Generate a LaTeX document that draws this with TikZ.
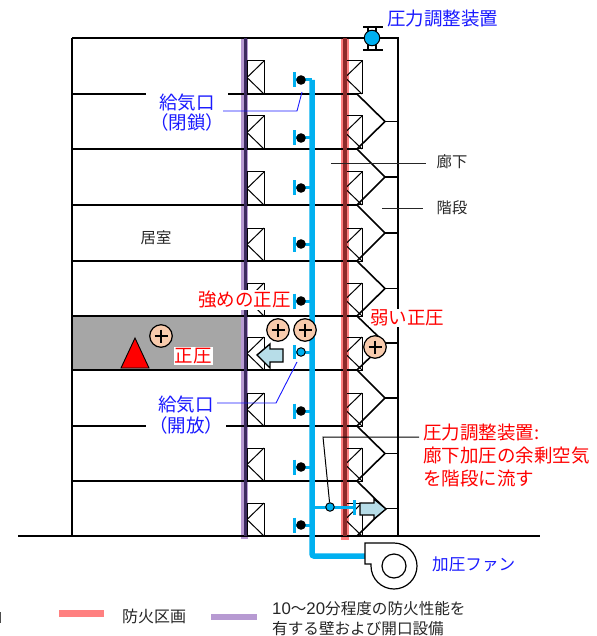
\documentclass[tikz,border=0pt]{standalone}
\usepackage{fontspec}
\setmainfont{Noto Sans CJK JP}
\newfontfamily\lat{Liberation Sans}
\usetikzlibrary{calc}
\definecolor{duct}{HTML}{00B0F0}
\definecolor{pinkw}{HTML}{FF8080}
\definecolor{purw}{HTML}{B79AD2}
\definecolor{purd}{HTML}{3C2A5E}
\definecolor{redd}{HTML}{8E2A2A}
\definecolor{plusf}{HTML}{F8CBAD}
\definecolor{arrowf}{HTML}{B7DDE8}
\definecolor{bluet}{HTML}{1A1AFF}
\definecolor{roomg}{HTML}{A6A6A6}
\tikzset{
  x=1pt,y=-1pt,
  wall/.style={line width=1.6pt,black},
  doorb/.style={line width=1pt,black},
  ductl/.style={line width=5.5pt,duct},
  ductt/.style={line width=3pt,duct},
  plusc/.style={circle,draw=black,line width=1.2pt,fill=plusf,minimum size=22.5pt,inner sep=0pt},
  lbl/.style={inner sep=1pt,font=\fontsize{18.5}{21}\selectfont},
  bluelbl/.style={lbl,text=bluet},
  redlbl/.style={lbl,text=red},
  blacklbl/.style={inner sep=1pt,text=black!85,font=\fontsize{15.3}{17}\selectfont},
  leadb/.style={line width=0.9pt,bluet},
  leadk/.style={line width=0.8pt,black!85},
  arrowb/.style={draw=black,line width=1.4pt,fill=arrowf,line join=miter},
}
\begin{document}
\begin{tikzpicture}
\useasboundingbox (0,0) rectangle (596,636);
\fill[white] (0,0) rectangle (596,636);
% room
\fill[roomg] (73,317) rectangle (241,369);
% fire walls (light band)
\fill[purw] (240.7,37) rectangle (248.3,539);
\fill[pinkw] (341,37) rectangle (349,540);
% building
\draw[wall] (72,38) -- (398,38) -- (398,536);
\draw[wall] (72,38) -- (72,536);
\foreach \y/\z in {94/149,149/205,205/261,261/316,316/370,370/426,426/481,481/536}{
  \draw[wall] (72,\y) -- (357,\y) -- ($(385,{(\y+\z)/2})$) -- (357,\z);
  \draw[line width=1.2pt] ($(385,{(\y+\z)/2})$) -- ($(398,{(\y+\z)/2})$);
}
\draw[wall] (18,536) -- (540,536);
% doors
\foreach \y in {94,149,205,261,316,370,426,481,536}{
  \foreach \x in {247,345}{
    \draw[doorb] (\x,\y-33) rectangle (\x+17,\y);
    \draw[doorb] (\x+17,\y-33) -- (\x,\y-16.5) -- (\x+17,\y);
  }
}
% wall core lines
\draw[line width=3pt,purd] (245,38) -- (245,536);
\draw[line width=3.6pt,redd] (345,38) -- (345,536);
% duct
\draw[ductl,rounded corners=2pt] (312,80) -- (312,556) -- (366,556);
\foreach \y in {80,138,188,244,301,411,467,525}{
  \draw[ductt] (312,\y) -- (294,\y);
  \draw[ductt] (294,\y-7.5) -- (294,\y+7.5);
  \fill[black] (301,\y) circle (4.8);
}
\draw[ductt] (312,352) -- (294,352);
\draw[ductt] (294,345) -- (294,359);
\node[circle,draw=black,fill=duct,line width=1pt,minimum size=8.5pt,inner sep=0pt] (openv) at (301,352) {};
% branch regulator
\draw[ductt] (312,507) -- (354,507);
\draw[ductt] (354,500) -- (354,515);
\node[circle,draw=black,fill=duct,line width=1pt,minimum size=8.5pt,inner sep=0pt] (reg) at (330,507) {};
% top regulator
\draw[line width=1.6pt] (363,27) -- (383,27) (363,50) -- (383,50);
\draw[line width=1.1pt] (368,27) -- (368,50) (376,27) -- (376,50);
\node[circle,draw=black,fill=duct,line width=1pt,minimum size=15.5pt,inner sep=0pt] (topreg) at (372,38) {};
% fan
\draw[line width=1.2pt,fill=white] (365,543) -- (394,543) arc[start angle=-90,end angle=180,radius=23] -- (371,564) -- (365,564) -- cycle;
\node[circle,draw=black,line width=1.2pt,minimum size=24pt,inner sep=0pt] (fan) at (394,566) {};
% block arrows
\draw[arrowb] (257,355) -- (270,344) -- (270,349) -- (283,349) -- (283,362) -- (270,362) -- (270,368) -- cycle;
\draw[arrowb] (386,509) -- (374,499) -- (374,503) -- (360,503) -- (360,515) -- (374,515) -- (374,519) -- cycle;
% triangle
\draw[fill=red,line width=.9pt] (135,338) -- (149,368) -- (121,368) -- cycle;
% plus signs
\foreach \n/\x/\y in {p1/161/336,p2/278/330,p3/305/330,p4/375/347}{
  \node[plusc] (\n) at (\x,\y) {};
  \draw[line width=1.1pt] (\x-6.5,\y) -- (\x+6.5,\y) (\x,\y-6.5) -- (\x,\y+6.5);
}
% labels
\node[bluelbl,anchor=west] (t1) at (386,19) {圧力調整装置};
\node[bluelbl,fill=white,align=center,inner xsep=4pt,font=\fontsize{18.5}{20.5}\selectfont] (t2) at (187,112.5) {給気口\\（閉鎖）};
\node[bluelbl,fill=white,align=center,inner xsep=3pt,font=\fontsize{18.5}{21}\selectfont] (t3) at (186,415) {給気口\\（開放）};
\node[bluelbl,anchor=west,font=\fontsize{16.6}{18}\selectfont] (t4) at (431,564) {加圧ファン};
\node[redlbl,fill=white,anchor=west] (t5) at (197,300) {強めの正圧};
\node[redlbl,fill=white] (t6) at (193,356) {正圧};
\node[redlbl,fill=white,anchor=west] (t7) at (369,318) {弱い正圧};
\node[inner sep=1pt,text=red,fill=white,anchor=north west,align=left,font=\fontsize{18.5}{23}\selectfont] (t8) at (422,423) {圧力調整装置:\\廊下加圧の余剰空気\\を階段に流す};
\node[blacklbl] (t9) at (452,162) {廊下};
\node[blacklbl] (t10) at (452,208) {階段};
\node[blacklbl] (t11) at (156,238) {居室};
% leaders
\coordinate (a1) at (223,111); \coordinate (a2) at (297,111); \coordinate (a3) at (302,92);
\draw[leadb] (a1) -- (a2) -- (a3);
\coordinate (b1) at (217,403); \coordinate (b2) at (276,403); \coordinate (b3) at (297,362);
\draw[leadb] (b1) -- (b2) -- (b3);
\coordinate (c1) at (419,437); \coordinate (c2) at (323,437);
\draw[line width=1pt,black] (c1) -- (c2) -- (reg);
\coordinate (d1) at (331,163); \coordinate (d2) at (426,163);
\draw[leadk] (d1) -- (d2);
\coordinate (e1) at (382,208); \coordinate (e2) at (423,208);
\draw[leadk] (e1) -- (e2);
% legend
\fill[pinkw] (59,610) rectangle (104,617);
\fill[purw] (211,614) rectangle (257,620);
\draw[line width=1pt,black!70] (0.5,612) -- (0.5,623);
\node[blacklbl,anchor=west,font=\fontsize{16}{18}\selectfont] (l1) at (121,616) {防火区画};
\node[blacklbl,anchor=north west,align=left,font=\fontsize{15.6}{20}\selectfont] (l2) at (271,600) {{\lat\fontsize{16.8}{20}\selectfont 10}～{\lat\fontsize{16.8}{20}\selectfont 20}分程度の防火性能を\\有する壁および開口設備};
\end{tikzpicture}
\end{document}
